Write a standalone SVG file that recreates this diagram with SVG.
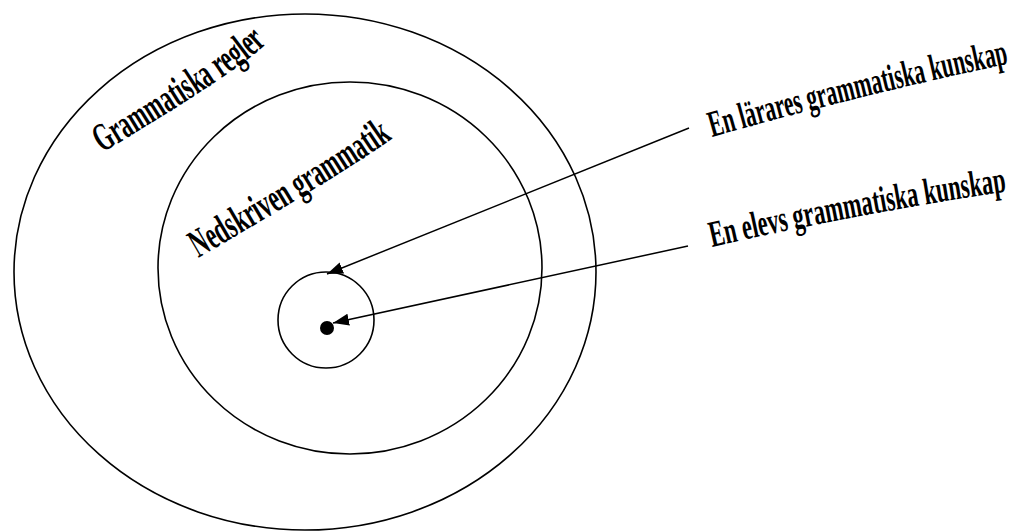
<svg xmlns="http://www.w3.org/2000/svg" xmlns:xlink="http://www.w3.org/1999/xlink" width="1027" height="531" viewBox="0 0 1027 531">
<style>
.ring{fill:none;stroke:#000;stroke-width:1.6}
.conn{stroke:#000;stroke-width:1.5;fill:none}
.lbl{font-family:"Liberation Serif","Times New Roman",serif;font-weight:bold;fill:#000}
</style>
<defs>
<marker id="ah" viewBox="0 0 16 12" refX="16" refY="6" markerWidth="16" markerHeight="12" markerUnits="userSpaceOnUse" orient="auto">
<path d="M0,0 L16,6 L0,12 Z" fill="#000"/>
</marker>
<path id="p1" d="M102,153 Q240,70 266,44"/>
<path id="p2" d="M198,258 Q338,177 396,136"/>
<path id="p3" d="M712,137 Q860,95 1012,63"/>
<path id="p4" d="M712,247 Q860,213 1010,191"/>
</defs>
<rect width="1027" height="531" fill="#fff"/>
<g id="outer">
<ellipse class="ring" cx="305" cy="272" rx="291" ry="258"/>
<text class="lbl" font-size="40"><textPath xlink:href="#p1" href="#p1" textLength="198" lengthAdjust="spacingAndGlyphs">Grammatiska regler</textPath></text>
</g>
<g id="middle">
<ellipse class="ring" cx="350" cy="268" rx="192" ry="186"/>
<text class="lbl" font-size="40"><textPath xlink:href="#p2" href="#p2" textLength="228" lengthAdjust="spacingAndGlyphs">Nedskriven grammatik</textPath></text>
</g>
<g id="inner">
<circle class="ring" cx="326" cy="320" r="48"/>
</g>
<g id="dot">
<circle cx="327" cy="328" r="7" fill="#000"/>
</g>
<g id="label-larare">
<text class="lbl" font-size="37"><textPath xlink:href="#p3" href="#p3" textLength="306" lengthAdjust="spacingAndGlyphs">En lärares grammatiska kunskap</textPath></text>
</g>
<g id="label-elev">
<text class="lbl" font-size="37"><textPath xlink:href="#p4" href="#p4" textLength="300" lengthAdjust="spacingAndGlyphs">En elevs grammatiska kunskap</textPath></text>
</g>
<g id="connectors">
<line class="conn" x1="689" y1="128" x2="327" y2="274" marker-end="url(#ah)"/>
<line class="conn" x1="688" y1="246" x2="333" y2="323" marker-end="url(#ah)"/>
</g>
</svg>
